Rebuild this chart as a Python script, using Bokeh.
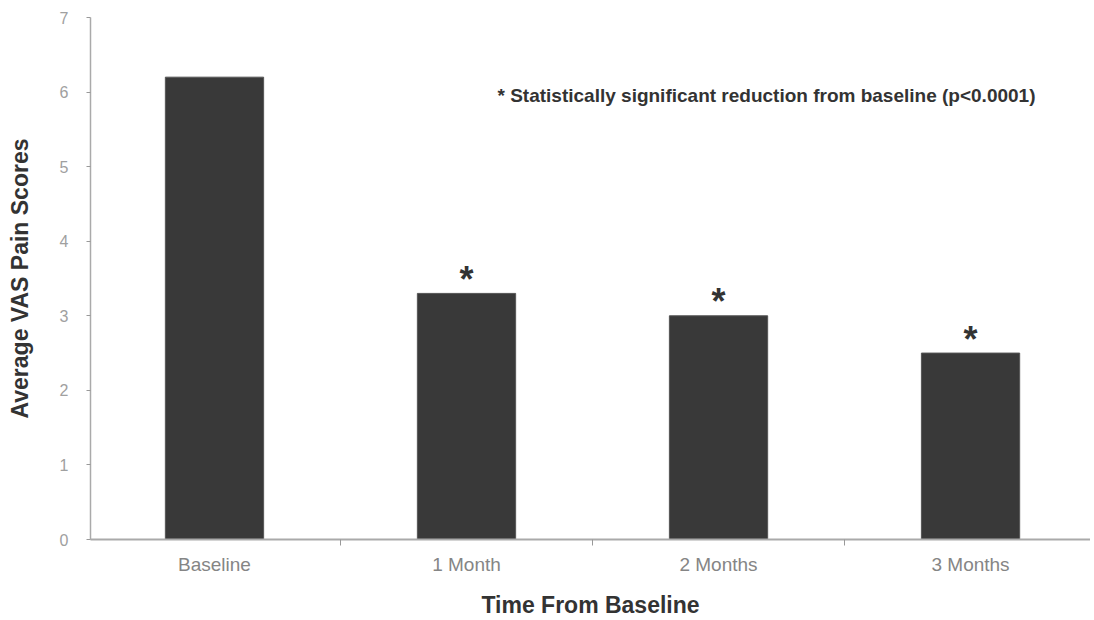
from bokeh.plotting import figure
from bokeh.models import ColumnDataSource, FixedTicker, Label
from bokeh.core.properties import value
from bokeh.embed import file_html
from bokeh.resources import INLINE

categories = ["Baseline", "1 Month", "2 Months", "3 Months"]
vas_scores = [6.2, 3.3, 3.0, 2.5]
significant = [False, True, True, True]
y_ticks = [0, 1, 2, 3, 4, 5, 6, 7]

FONT = "Liberation Sans"

idx = list(range(len(categories)))
src = ColumnDataSource(dict(x=idx, top=vas_scores, cat=categories))
star_x = [i for i, s in zip(idx, significant) if s]
star_y = [v for v, s in zip(vas_scores, significant) if s]
star_src = ColumnDataSource(dict(x=star_x, y=star_y, t=["*"] * len(star_x)))

p = figure(width=1090, height=620, output_backend="svg", toolbar_location=None,
           x_range=(-0.492, 3.476), y_range=(0, 7),
           min_border_left=90, min_border_right=0, min_border_top=17, min_border_bottom=80)
p.outline_line_color = None
p.grid.grid_line_color = None
p.background_fill_color = "white"

p.vbar(x="x", top="top", width=0.39, source=src, fill_color="#393939",
       line_color="#555555", line_width=1)

p.text(x="x", y="y", text="t", source=star_src, text_align="center",
       text_baseline="middle", y_offset=-14, text_font=value(FONT),
       text_font_style="bold", text_font_size="36px", text_color="#333333")

note = Label(x=1.123, y=5.96, text="* Statistically significant reduction from baseline (p<0.0001)",
             text_font=FONT, text_font_style="bold", text_font_size="19px",
             text_color="#333333", text_baseline="middle", text_align="left")
p.add_layout(note)

xa = p.xaxis[0]
xa.ticker = FixedTicker(ticks=idx, minor_ticks=[i + 0.5 for i in idx[:-1]])
xa.major_label_overrides = {i: c for i, c in zip(idx, categories)}
xa.major_tick_line_color = None
xa.major_tick_out = 0
xa.major_tick_in = 0
xa.minor_tick_line_color = "#999999"
xa.minor_tick_in = 0
xa.minor_tick_out = 6
xa.axis_line_color = "#aaaaaa"
xa.axis_line_width = 2
xa.major_label_text_font = FONT
xa.major_label_text_font_size = "19px"
xa.major_label_text_color = "#858585"
xa.major_label_standoff = 8
xa.axis_label = "Time From Baseline"
xa.axis_label_text_font = FONT
xa.axis_label_text_font_style = "bold"
xa.axis_label_text_font_size = "23px"
xa.axis_label_text_color = "#333333"
xa.axis_label_standoff = 14

ya = p.yaxis[0]
ya.ticker = FixedTicker(ticks=y_ticks, minor_ticks=[])
ya.major_tick_in = 0
ya.major_tick_out = 4
ya.major_tick_line_color = "#999999"
ya.axis_line_color = "#aaaaaa"
ya.axis_line_width = 1.5
ya.major_label_text_font = FONT
ya.major_label_text_font_size = "16px"
ya.major_label_text_color = "#a0a0a0"
ya.major_label_standoff = 18
ya.axis_label = "Average VAS Pain Scores"
ya.axis_label_text_font = FONT
ya.axis_label_text_font_style = "bold"
ya.axis_label_text_font_size = "23px"
ya.axis_label_text_color = "#333333"
ya.axis_label_standoff = 24

open("out.html", "w").write(file_html(p, INLINE))
